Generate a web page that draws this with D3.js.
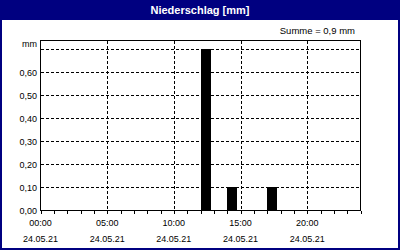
<!DOCTYPE html>
<html>
<head>
<meta charset="utf-8">
<script src="https://cdn.jsdelivr.net/npm/d3@7"></script>
<style>
  body { margin: 0; background: #fff; }
  svg { display: block; font-family: "Liberation Sans", Arial, sans-serif; }
</style>
</head>
<body>
<svg id="chart" width="400" height="250"></svg>
<script>
// rain per hour (start hour of each bar)
const barHours = [12, 14, 17];
const barValues = [0.7, 0.1, 0.1];
const yTicks = [0, 0.1, 0.2, 0.3, 0.4, 0.5, 0.6];
const xTicks = [0, 5, 10, 15, 20];
const xTimeLabels = ["00:00", "05:00", "10:00", "15:00", "20:00"];
const xDateLabels = ["24.05.21", "24.05.21", "24.05.21", "24.05.21", "24.05.21"];
const title = "Niederschlag [mm]";
const summe = "Summe = 0,9 mm";

const svg = d3.select("#chart");
const W = 400, H = 250;
const navy = "#000080";

// frame + title bar
svg.append("rect").attr("width", W).attr("height", H).attr("fill", navy);
svg.append("rect").attr("x", 2).attr("y", 20).attr("width", W - 4).attr("height", H - 22).attr("fill", "#fff");
svg.append("text").attr("x", W / 2).attr("y", 14).attr("text-anchor", "middle")
  .attr("fill", "#fff").attr("font-weight", "bold").attr("font-size", "11px").text(title);
svg.append("text").attr("x", 355).attr("y", 34).attr("text-anchor", "end")
  .attr("font-size", "9.5px").text(summe);

const x = d3.scaleLinear().domain([0, 24]).range([40.5, 360.5]);
const y = d3.scaleLinear().domain([0, 0.74]).range([210, 40]);
const py = v => Math.round(y(v)) + 0.5;
const px = v => Math.round(x(v)) + 0.5;

const g = svg.append("g").attr("shape-rendering", "crispEdges");

// horizontal grid
g.selectAll(".hg").data(d3.range(1, 8).map(d => d / 10)).enter().append("line")
  .attr("x1", x(0)).attr("x2", x(24))
  .attr("y1", d => py(d)).attr("y2", d => py(d))
  .attr("stroke", "#000").attr("stroke-dasharray", "3,2");
// vertical grid
g.selectAll(".vg").data([5, 10, 15, 20]).enter().append("line")
  .attr("x1", d => px(d)).attr("x2", d => px(d))
  .attr("y1", py(0.74)).attr("y2", py(0))
  .attr("stroke", "#000").attr("stroke-dasharray", "3,2");

// bars
g.selectAll(".bar").data(barHours).enter().append("rect")
  .attr("x", d => Math.round(x(d)))
  .attr("width", d => Math.round(x(d + 0.75)) - Math.round(x(d)))
  .attr("y", (d, i) => Math.round(y(barValues[i])))
  .attr("height", (d, i) => Math.round(y(0)) - Math.round(y(barValues[i])))
  .attr("fill", "#000");

// plot border
g.append("rect").attr("x", x(0)).attr("y", py(0.74))
  .attr("width", x(24) - x(0)).attr("height", py(0) - py(0.74))
  .attr("fill", "none").attr("stroke", "#000");

// hourly ticks below axis
g.selectAll(".tk").data(d3.range(0, 25)).enter().append("line")
  .attr("x1", d => px(d)).attr("x2", d => px(d))
  .attr("y1", py(0)).attr("y2", py(0) + 3)
  .attr("stroke", "#000");

// y labels
svg.selectAll(".yl").data(yTicks).enter().append("text")
  .attr("x", 37).attr("y", d => py(d) + 3.5).attr("text-anchor", "end")
  .attr("font-size", "9px").text(d => d3.format(".2f")(d).replace(".", ","));
svg.append("text").attr("x", 37).attr("y", 47).attr("text-anchor", "end")
  .attr("font-size", "9px").text("mm");

// x labels
svg.selectAll(".xl").data(xTicks).enter().append("text")
  .attr("x", d => x(d)).attr("y", 226).attr("text-anchor", "middle")
  .attr("font-size", "9px").text((d, i) => xTimeLabels[i]);
svg.selectAll(".xd").data(xTicks).enter().append("text")
  .attr("x", d => x(d)).attr("y", 242).attr("text-anchor", "middle")
  .attr("font-size", "9px").text((d, i) => xDateLabels[i]);
</script>
</body>
</html>
